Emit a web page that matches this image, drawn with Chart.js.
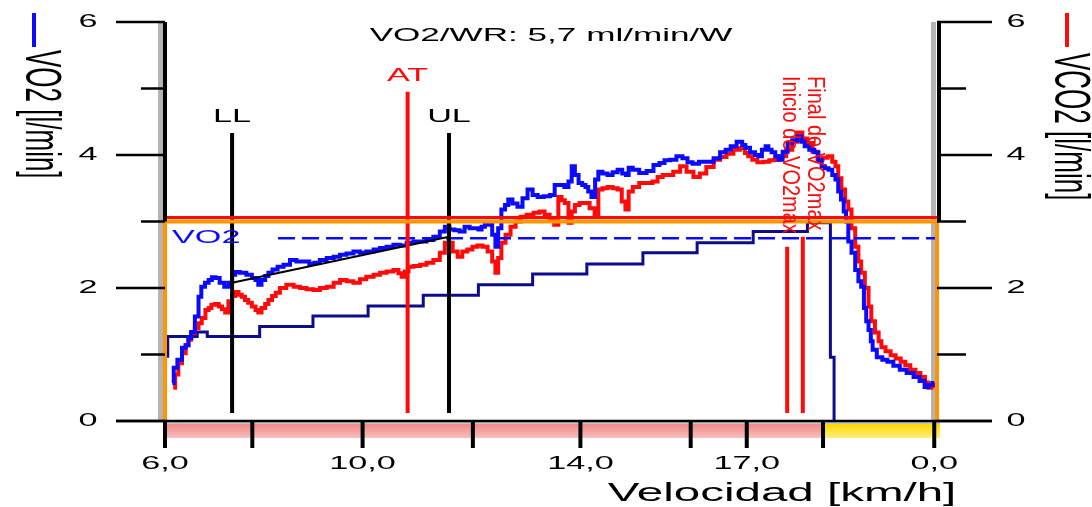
<!DOCTYPE html>
<html>
<head>
<meta charset="utf-8">
<script src="https://cdn.jsdelivr.net/npm/chart.js@4.4.1/dist/chart.umd.min.js"></script>
<style>
  html, body { margin: 0; padding: 0; background: #fff; }
  canvas { display: block; }
</style>
</head>
<body>
<canvas id="ergoChart" width="1092" height="507"></canvas>
<script>
// time [s], VO2 [l/min]
const vo2 = [
  [8,0.57],[11,0.80],[16,0.92],[21,1.10],[24,1.14],[27,1.25],[30,1.34],[35,1.57],[38,1.87],[41,2.02],
  [46,2.08],[49,2.12],[53,2.16],[57,2.15],[62,2.08],[67,2.02],[71,2.08],[75,2.20],[78,2.24],[85,2.23],
  [92,2.20],[97,2.15],[100,2.12],[103,2.05],[107,2.12],[111,2.18],[114,2.23],[120,2.28],[125,2.32],[133,2.35],
  [139,2.42],[147,2.40],[154,2.40],[160,2.36],[165,2.38],[172,2.42],[180,2.45],[187,2.47],[194,2.50],[201,2.52],
  [209,2.55],[215,2.53],[223,2.55],[231,2.58],[237,2.60],[245,2.62],[252,2.65],[259,2.64],[267,2.68],[274,2.70],
  [281,2.70],[288,2.72],[296,2.77],[302,2.85],[307,2.92],[312,2.88],[318,2.87],[323,2.85],[329,2.92],[334,2.90],
  [339,2.90],[343,2.88],[346,2.92],[350,2.95],[354,2.95],[358,2.80],[361,2.62],[364,2.90],[368,3.18],[372,3.25],
  [375,3.33],[381,3.27],[386,3.22],[392,3.35],[397,3.48],[403,3.40],[408,3.37],[416,3.38],[422,3.40],[426,3.55],
  [432,3.55],[437,3.52],[441,3.60],[444,3.83],[448,3.70],[452,3.58],[456,3.55],[459,3.52],[462,3.45],[466,3.37],
  [470,3.63],[473,3.75],[479,3.72],[484,3.70],[490,3.74],[495,3.78],[500,3.72],[503,3.70],[506,3.81],[512,3.78],
  [520,3.73],[528,3.76],[535,3.85],[541,3.88],[546,3.92],[553,3.93],[560,3.98],[566,3.95],[571,3.89],[577,3.87],
  [585,3.90],[593,3.90],[601,3.95],[607,4.04],[613,4.08],[618,4.13],[626,4.20],[630,4.15],[633,4.11],[640,4.04],
  [644,4.00],[647,3.98],[652,4.08],[655,4.13],[658,4.08],[662,4.04],[666,3.98],[669,3.93],[675,4.05],[680,4.18],
  [685,4.22],[691,4.28],[694,4.20],[698,4.13],[704,4.08],[709,4.04],[713,3.92],[716,3.83],[720,3.80],[724,3.78],
  [728,3.70],[731,3.63],[734,3.45],[737,3.33],[740,3.15],[742,3.00],[745,2.70],[749,2.53],[753,2.27],[756,2.10],
  [759,2.02],[762,1.70],[764,1.50],[767,1.37],[769,1.20],[771,1.07],[778,0.96],[783,0.92],[789,0.89],[796,0.83],
  [803,0.77],[811,0.72],[818,0.66],[824,0.60],[829,0.51],[833,0.54],[837,0.57]
];

// time [s], VCO2 [l/min]
const vco2 = [
  [9,0.50],[13,0.70],[16,0.87],[21,1.02],[24,1.14],[27,1.22],[30,1.32],[35,1.40],[38,1.47],[42,1.55],
  [46,1.67],[49,1.70],[52,1.75],[57,1.76],[60,1.72],[64,1.68],[67,1.63],[71,1.80],[75,1.88],[78,1.94],
  [82,1.90],[85,1.87],[89,1.82],[92,1.78],[97,1.72],[100,1.67],[103,1.63],[107,1.70],[111,1.76],[114,1.82],
  [119,1.88],[122,1.93],[128,2.00],[136,2.05],[144,2.02],[150,2.00],[158,1.98],[165,1.97],[172,2.00],[180,2.02],
  [187,2.08],[194,2.12],[201,2.10],[209,2.08],[215,2.13],[223,2.17],[231,2.20],[237,2.23],[245,2.25],[252,2.27],
  [256,2.22],[259,2.17],[263,2.25],[267,2.32],[274,2.33],[281,2.35],[288,2.38],[296,2.42],[302,2.53],[307,2.68],
  [310,2.68],[316,2.55],[321,2.47],[326,2.55],[332,2.58],[337,2.62],[343,2.64],[348,2.62],[354,2.55],[358,2.40],
  [361,2.23],[364,2.45],[368,2.68],[373,2.80],[379,2.92],[384,3.00],[390,3.07],[397,3.10],[405,3.13],[410,3.15],
  [416,3.10],[421,3.02],[426,2.95],[430,3.37],[433,3.32],[437,3.28],[441,2.98],[444,3.15],[448,3.25],[454,3.28],
  [459,3.28],[465,3.20],[470,3.07],[473,3.48],[479,3.50],[484,3.52],[490,3.50],[495,3.48],[499,3.30],[503,3.18],
  [506,3.45],[512,3.52],[520,3.58],[528,3.58],[533,3.60],[539,3.67],[544,3.70],[549,3.70],[557,3.75],[564,3.83],
  [571,3.75],[579,3.67],[585,3.72],[593,3.82],[601,3.93],[607,3.97],[615,4.02],[622,4.08],[629,4.10],[633,4.03],
  [636,3.98],[642,3.93],[647,3.89],[655,3.90],[660,3.92],[666,3.93],[672,3.98],[680,4.08],[685,4.20],[691,4.34],
  [696,4.25],[702,4.18],[707,4.05],[713,3.93],[718,3.96],[724,3.98],[728,3.90],[731,3.83],[734,3.65],[738,3.48],
  [742,3.30],[745,3.18],[749,2.90],[753,2.62],[756,2.40],[759,2.23],[764,2.00],[767,1.72],[770,1.50],[775,1.33],
  [778,1.20],[781,1.11],[787,1.05],[792,0.99],[798,0.94],[803,0.89],[808,0.84],[814,0.77],[819,0.72],[825,0.66],
  [829,0.58],[832,0.50],[836,0.53],[838,0.55]
];

// load steps (scaled onto the VO2 axis)
const load = [
  [3,0.95],[3,1.27],[35,1.34],[46,1.27],[103,1.42],[161,1.58],[221,1.73],[281,1.89],[341,2.05],
  [400,2.21],[459,2.36],[520,2.53],[579,2.68],[640,2.85],[699,2.98],[724,2.98],[724,0.96],[728,0.0]
];

// event markers
const markerNames = ['LL', 'AT', 'UL', 'Inicio de VO2max', 'Final de VO2max'];
const markerTimes = [73, 264, 309, 677, 694];
const markerTops = [4.33, 4.95, 4.33, 2.62, 2.77];
const markerBottom = 0.12;

// VO2/WR slope between LL and UL
const slopeTimes = [73, 309];
const slopeValues = [2.08, 2.77];

const vo2Ref = 2.75;
const vo2RefStart = 123;
const vo2Limit = 3.0;
const vco2Limit = 3.06;

const xMax = 840;
const yMax = 6;
const tickTimes = [0, 95, 215, 335, 452, 572, 633, 716, 837];
const tickLabels = ['6,0', '', '10,0', '', '14,0', '', '17,0', '', '0,0'];
const exerciseEnd = 716;
const yTicks = [0, 1, 2, 3, 4, 5, 6];

const toXY = arr => arr.map(([x, y]) => ({ x, y }));
const SX = 1.9; // wide text

function wideText(ctx, text, x, y, o) {
  ctx.save();
  ctx.font = o.font;
  ctx.fillStyle = o.color || '#000';
  ctx.textAlign = o.align || 'center';
  ctx.textBaseline = 'middle';
  ctx.translate(x, y);
  if (o.rotate) {
    ctx.rotate(Math.PI / 2);
    ctx.scale(1, o.stretch || 1);
  } else {
    ctx.scale(o.stretch || 1, 1);
  }
  ctx.fillText(text, 0, 0);
  ctx.restore();
}

function line(ctx, x1, y1, x2, y2, color, w) {
  ctx.beginPath();
  ctx.strokeStyle = color;
  ctx.lineWidth = w;
  ctx.moveTo(x1, y1);
  ctx.lineTo(x2, y2);
  ctx.stroke();
}

const frame = {
  id: 'frame',
  beforeDatasetsDraw(chart) {
    const { ctx, scales: { x, y } } = chart;
    ctx.save();
    // grey shading beside both axes
    ctx.fillStyle = '#b4b4b4';
    ctx.fillRect(x.left - 7, y.top, 5, y.bottom - y.top);
    ctx.fillRect(x.right - 6, y.top, 5, y.bottom - y.top);
    // phase bands under the time axis
    const xe = x.getPixelForValue(exerciseEnd);
    ctx.fillStyle = '#c4c4c4';
    ctx.fillRect(x.left, y.bottom + 1, x.right + 3 - x.left, 2);
    const gp = ctx.createLinearGradient(0, y.bottom + 3, 0, y.bottom + 17);
    gp.addColorStop(0, '#f08c8c');
    gp.addColorStop(0.5, '#f4a2a2');
    gp.addColorStop(1, '#f9c0c0');
    ctx.fillStyle = gp;
    ctx.fillRect(x.left, y.bottom + 3, xe - x.left, 14);
    const gy = ctx.createLinearGradient(0, y.bottom + 3, 0, y.bottom + 17);
    gy.addColorStop(0, '#ffd800');
    gy.addColorStop(1, '#ffee80');
    ctx.fillStyle = gy;
    ctx.fillRect(xe, y.bottom + 3, x.right + 3 - xe, 14);
    ctx.restore();
  },
  afterDatasetsDraw(chart) {
    const { ctx, scales: { x, y } } = chart;
    ctx.save();
    ctx.lineCap = 'butt';
    const y3 = y.getPixelForValue(vo2Limit);
    // axis lines above the limit box
    line(ctx, x.left, y.top, x.left, y3, '#000', 4);
    line(ctx, x.right + 2, y.top, x.right + 2, y3, '#000', 4);
    // y ticks and labels
    yTicks.forEach(v => {
      const py = y.getPixelForValue(v);
      const major = v % 2 === 0;
      line(ctx, x.left - (major ? 49 : 24), py, x.left, py, '#000', 2.5);
      line(ctx, x.right, py, x.right + (major ? 55 : 29), py, '#000', 2.5);
      if (major) {
        wideText(ctx, String(v), 88, py, { font: '18px "Liberation Sans"', stretch: SX });
        wideText(ctx, String(v), 1016, py, { font: '18px "Liberation Sans"', stretch: SX });
      }
    });
    // time axis
    line(ctx, x.left - 49, y.bottom, x.right + 55, y.bottom, '#000', 2.5);
    tickTimes.forEach((t, i) => {
      const px = x.getPixelForValue(t);
      line(ctx, px, y.bottom, px, y.bottom + 27, '#000', 4);
      if (tickLabels[i]) {
        wideText(ctx, tickLabels[i], px, y.bottom + 43, { font: '18px "Liberation Sans"', stretch: SX });
      }
    });
    wideText(ctx, 'Velocidad [km/h]', 782, 494, { font: '25px "Liberation Sans"', stretch: SX });
    wideText(ctx, 'VO2/WR: 5,7 ml/min/W', (x.left + x.right) / 2, 36, { font: '18px "Liberation Sans"', stretch: 1.95 });

    // axis titles with colour keys
    line(ctx, 34, 13, 34, 47, '#0a0aff', 4);
    wideText(ctx, 'VO2 [l/min]', 40, 50, { font: '26px "Liberation Sans"', rotate: true, stretch: SX, align: 'left' });
    line(ctx, 1067, 13, 1067, 47, '#ff0a0a', 4);
    wideText(ctx, 'VCO2 [l/min]', 1069, 53, { font: '26px "Liberation Sans"', rotate: true, stretch: SX, align: 'left' });

    // marker labels
    const col = ['#000', '#ff0a0a', '#000'];
    [0, 1, 2].forEach(i => {
      const px = x.getPixelForValue(markerTimes[i]);
      const py = y.getPixelForValue(markerTops[i]) - 16;
      wideText(ctx, markerNames[i], px, py, { font: '18px "Liberation Sans"', color: col[i], stretch: SX });
    });
    [3, 4].forEach((i, k) => {
      const px = x.getPixelForValue(markerTimes[i]) + (k === 0 ? 2 : 12);
      wideText(ctx, markerNames[i], px, 76, { font: '20px "Liberation Sans"', color: '#ff0a0a', rotate: true, align: 'left', stretch: 1.15 });
    });
    wideText(ctx, 'VO2', x.left + 7, y.getPixelForValue(vo2Ref), { font: '18px "Liberation Sans"', color: '#0a0aff', stretch: SX, align: 'left' });
    ctx.restore();
  }
};

const markerColors = ['#000', '#ff0a0a', '#000', '#ff0a0a', '#ff0a0a'];
const markerSets = markerTimes.map((t, i) => ({
  data: [{ x: t, y: markerBottom }, { x: t, y: markerTops[i] }],
  borderColor: markerColors[i],
  borderWidth: 4,
  order: 1,
}));

new Chart(document.getElementById('ergoChart'), {
  type: 'line',
  data: {
    datasets: [
      {
        label: 'Carga',
        data: toXY(load),
        borderColor: '#0c0c8c',
        borderWidth: 3,
        stepped: true,
        order: 6,
      },
      {
        label: 'VCO2',
        data: toXY(vco2),
        borderColor: '#ff0a0a',
        borderWidth: 4,
        stepped: 'middle',
        order: 5,
      },
      {
        label: 'VO2',
        data: toXY(vo2),
        borderColor: '#0a0aff',
        borderWidth: 4,
        stepped: 'middle',
        order: 4,
      },
      {
        label: 'VO2 ref',
        data: [{ x: vo2RefStart, y: vo2Ref }, { x: xMax, y: vo2Ref }],
        borderColor: '#0a0aff',
        borderWidth: 2.5,
        borderDash: [17, 7],
        order: 3,
      },
      {
        label: 'VO2/WR',
        data: slopeTimes.map((t, i) => ({ x: t, y: slopeValues[i] })),
        borderColor: '#000',
        borderWidth: 2,
        order: 2,
      },
      {
        label: 'VO2 limit',
        data: [{ x: 0, y: 0 }, { x: 0, y: vo2Limit }, { x: xMax, y: vo2Limit }, { x: xMax, y: 0 }],
        borderColor: '#ff9500',
        borderWidth: 4,
        clip: 6,
        order: 1,
      },
      {
        label: 'VCO2 limit',
        data: [{ x: 0, y: vco2Limit }, { x: xMax, y: vco2Limit }],
        borderColor: '#ff0a0a',
        borderWidth: 3,
        clip: 6,
        order: 0,
      },
      ...markerSets,
    ]
  },
  options: {
    responsive: false,
    animation: false,
    devicePixelRatio: 1,
    elements: { point: { radius: 0 }, line: { tension: 0, fill: false } },
    layout: { padding: { left: 165, right: 155, top: 22, bottom: 86 } },
    scales: {
      x: { type: 'linear', min: 0, max: xMax, display: false },
      y: { min: 0, max: yMax, display: false },
    },
    plugins: {
      legend: { display: false },
      tooltip: { enabled: false },
    }
  },
  plugins: [frame]
});
</script>
</body>
</html>
